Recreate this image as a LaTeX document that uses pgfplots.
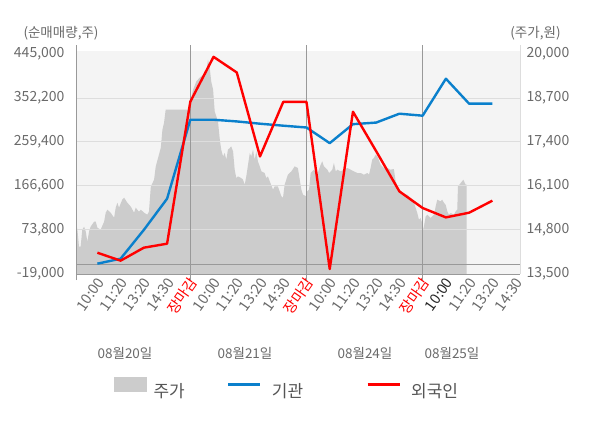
\documentclass[border=0pt]{standalone}
\usepackage{pgfplots}
\usepackage{pgfplotstable}
\pgfplotsset{compat=1.18}
\usepackage{fontspec}
\setmainfont{Noto Sans CJK KR}
\definecolor{bgc}{HTML}{F4F4F4}
\definecolor{gridc}{HTML}{DDDDDD}
\definecolor{areac}{HTML}{CCCCCC}
\definecolor{bluec}{HTML}{0A80CC}
\definecolor{redc}{HTML}{FF0000}
\definecolor{txtc}{HTML}{6A6A6A}
\definecolor{axc}{HTML}{999999}
\definecolor{legc}{HTML}{555555}

\pgfplotstableread{
x y
0.07 15016
0.14 14809
0.21 14307
0.28 14307
0.35 14809
0.43 14898
0.50 14750
0.57 14454
0.64 14750
0.71 14898
0.86 15045
0.93 15045
1.00 14868
1.14 14809
1.29 15045
1.36 15311
1.43 15400
1.57 15311
1.72 15163
1.79 15459
1.86 15607
1.93 15459
2.07 15695
2.15 15754
2.29 15607
2.44 15488
2.58 15311
2.65 15459
2.79 15341
2.87 15400
3.01 15311
3.15 15252
3.22 15341
3.30 16079
3.44 16286
3.51 16670
3.65 17025
3.73 17232
3.80 17763
3.87 17970
3.94 18354
4.94 18354
5.02 18650
5.12 18945
5.26 19190
5.40 19300
5.55 19388
5.69 19448
5.76 19832
5.83 19625
5.90 19190
5.98 18945
6.05 18304
6.12 18156
6.19 18009
6.27 17468
6.33 17173
6.41 16975
6.48 17075
6.55 16877
6.62 17173
6.70 17223
6.76 17270
6.84 17122
6.91 16582
6.98 16336
7.05 16384
7.19 16336
7.27 16286
7.34 16138
7.41 16384
7.56 17075
7.62 16975
7.70 17173
7.77 16877
7.84 17122
7.91 16827
7.99 16679
8.06 16531
8.20 16484
8.27 16336
8.34 16384
8.42 16236
8.56 15991
8.63 16088
8.77 16088
8.92 15793
8.99 15754
9.06 16138
9.20 16434
9.35 16531
9.49 16679
9.63 16632
9.71 16286
9.78 15991
9.85 15843
9.99 15793
10.03 15941
10.11 15991
10.18 16484
10.32 16582
10.46 16434
10.61 16729
10.68 16827
10.75 16679
10.90 16582
10.97 16484
11.04 16531
11.11 16582
11.18 16780
11.26 16531
11.33 16582
11.47 16531
11.61 16582
11.76 16632
11.90 16582
12.04 16531
12.19 16484
12.33 16484
12.47 16434
12.62 16484
12.69 16434
12.76 16632
12.83 16877
12.90 16927
12.98 17025
13.05 16975
13.19 16729
13.33 16632
13.48 16632
13.62 16582
13.76 16602
13.84 16236
13.98 15991
14.12 15893
14.27 15843
14.34 15843
14.48 15746
14.63 15598
14.77 15302
14.84 15104
14.91 15155
14.98 15007
15.03 14809
15.13 15202
15.20 15252
15.34 15155
15.49 15252
15.56 15497
15.63 15695
15.77 15645
15.84 15695
15.92 15598
15.99 15547
16.06 15350
16.13 15252
16.21 15302
16.35 15252
16.42 15350
16.49 15400
16.52 16088
16.64 16189
16.75 16286
16.85 16138
16.89 16138
}\pricetab

\pgfplotstableread{
x y
1 2740
2 13300
3 74000
4 139800
5 306400
6 306400
7 302800
8 298000
9 293800
10 290000
11 257000
12 297000
13 300400
14 319100
15 314900
16 392900
17 340200
18 340200
}\bluetab

\pgfplotstableread{
x y
1 25900
2 9100
3 36500
4 44900
5 344400
6 439000
7 406000
8 229000
9 344000
10 344000
11 -8500
12 323300
13 240000
14 155200
15 120200
16 100400
17 110300
18 135600
}\redtab

\begin{document}
\begin{tikzpicture}
\useasboundingbox (0,0) rectangle (600bp,428bp);
\begin{axis}[
  at={(76bp,154bp)}, anchor=south west, scale only axis,
  width=444bp, height=229bp,
  xmin=0.08, xmax=19.19, ymin=13500, ymax=20266,
  scaled y ticks=false,
  axis x line=none, axis y line*=right,
  y axis line style={draw=gridc, line width=1bp, -},
  ytick={13500,14800,16100,17400,18700,20000},
  yticklabels={{13,500},{14,800},{16,100},{17,400},{18,700},{20,000}},
  yticklabel style={font=\fontsize{14bp}{16bp}\selectfont, text=txtc, anchor=west, xshift=3bp},
  major tick length=0pt,
  extra y ticks={14800,16100,17400,18700},
  extra y tick labels={},
  extra y tick style={grid=major, major grid style={draw=gridc, line width=1bp}},
  axis on top,
]
\fill[bgc] (axis cs:0.08,13500) rectangle (axis cs:19.19,20077);
\addplot[fill=areac, draw=none] table[x=x,y=y] {\pricetab} \closedcycle;
\end{axis}

\begin{axis}[
  at={(76bp,154bp)}, anchor=south west, scale only axis,
  width=444bp, height=229bp,
  xmin=0.08, xmax=19.19, ymin=-19000, ymax=464000,
  scaled y ticks=false, scaled x ticks=false,
  axis x line*=bottom, axis y line*=left,
  x axis line style={draw=axc, line width=1bp, -},
  y axis line style={draw=axc, line width=1bp, -},
  xtick={1,...,19},
  xticklabels={10:00,11:20,13:20,14:30,\textcolor{redc}{장마감},10:00,11:20,13:20,14:30,\textcolor{redc}{장마감},10:00,11:20,13:20,14:30,\textcolor{redc}{장마감},\textcolor{black!85}{10:00},11:20,13:20,14:30},
  xticklabel style={rotate=55, anchor=east, font=\fontsize{14.5bp}{16bp}\selectfont, text=txtc, yshift=-6bp, xshift=1bp},
  major tick length=0pt,
  extra x ticks={0.08,5,10,15},
  extra x tick labels={},
  extra x tick style={grid=major, major grid style={draw=axc, line width=1bp}, major tick length=6bp, tick align=outside, tick style={draw=axc, line width=1bp}},
  ytick={-19000,73800,166600,259400,352200,445000},
  yticklabels={{-19,000},{73,800},{166,600},{259,400},{352,200},{445,000}},
  yticklabel style={font=\fontsize{14bp}{16bp}\selectfont, text=txtc, anchor=east, xshift=-8bp},
  extra y ticks={0},
  extra y tick labels={},
  extra y tick style={grid=major, major grid style={draw=axc, line width=1bp}},
  legend columns=3,
  legend style={draw=none, fill=none, at={(0.0856,-0.502)}, anchor=west, inner sep=0pt,
    font=\fontsize{17bp}{20bp}\selectfont, text=legc,
    nodes={inner xsep=0pt, inner ysep=2bp},
    /tikz/column 1/.style={column sep=7bp},
    /tikz/column 2/.style={column sep=42bp},
    /tikz/column 3/.style={column sep=10bp},
    /tikz/column 4/.style={column sep=63bp},
    /tikz/column 5/.style={column sep=10bp}},
]
\addlegendimage{legend image code/.code={\fill[areac] (0bp,0.5bp) rectangle (32bp,14.5bp);}}
\addlegendentry{주가}
\addlegendimage{legend image code/.code={\draw[bluec, line width=3bp] (0bp,6.5bp) -- (32bp,6.5bp);}}
\addlegendentry{기관}
\addlegendimage{legend image code/.code={\draw[redc, line width=3bp] (0bp,6.5bp) -- (32bp,6.5bp);}}
\addlegendentry{외국인}
\addplot[forget plot, bluec, line width=2.4bp, line join=round] table[x=x,y=y] {\bluetab};
\addplot[forget plot, redc, line width=2.4bp, line join=round] table[x=x,y=y] {\redtab};
\end{axis}

\node[text=txtc, font=\fontsize{13.5bp}{16bp}\selectfont] at (61bp,395bp) {(순매매량,주)};
\node[text=txtc, font=\fontsize{13.5bp}{16bp}\selectfont] at (535.5bp,395bp) {(주가,원)};
\node[text=txtc, font=\fontsize{13.5bp}{16bp}\selectfont] at (125bp,75bp) {08월20일};
\node[text=txtc, font=\fontsize{13.5bp}{16bp}\selectfont] at (245bp,75bp) {08월21일};
\node[text=txtc, font=\fontsize{13.5bp}{16bp}\selectfont] at (365bp,75bp) {08월24일};
\node[text=txtc, font=\fontsize{13.5bp}{16bp}\selectfont] at (452bp,75bp) {08월25일};
\end{tikzpicture}
\end{document}
